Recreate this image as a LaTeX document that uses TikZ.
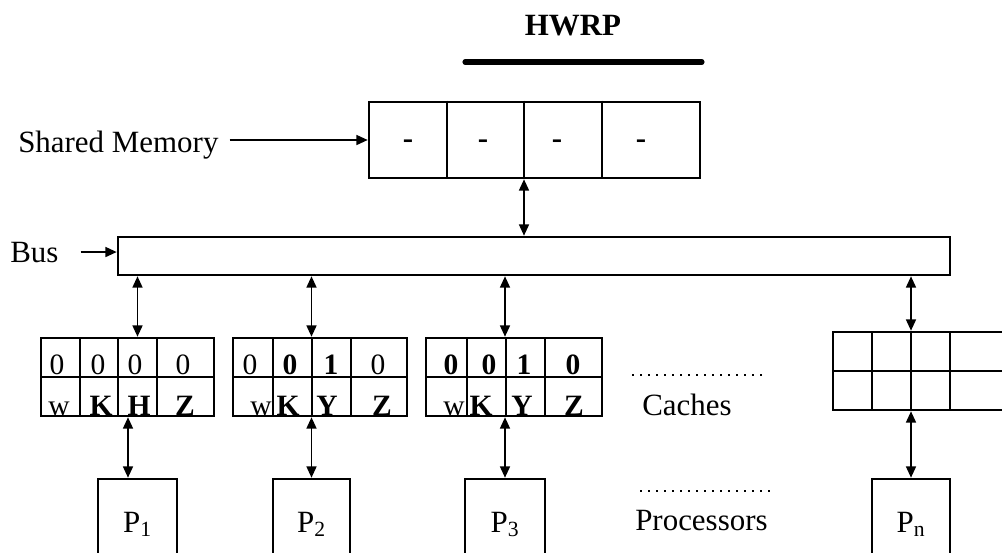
\documentclass[tikz,border=0pt]{standalone}
\usepackage{fontspec}
\setmainfont{Liberation Serif}
\usetikzlibrary{arrows.meta,positioning,calc,fit}

\begin{document}
\begin{tikzpicture}[x=0.025cm, y=-0.025cm,
  % every box of the machine shares one heavy outline
  boxline/.style={draw=black, line width=1.8pt, inner sep=0pt},
  cellline/.style={line width=1.5pt},
  % bus traffic goes both ways; the two labels point one way only
  biarrow/.style={line width=1.3pt, {Triangle[length=8pt,width=7pt]}-{Triangle[length=8pt,width=7pt]}},
  onearrow/.style={line width=1.3pt, -{Triangle[length=8pt,width=7pt]}},
  lbl/.style={font=\fontsize{22}{24}\selectfont, inner sep=0pt},
  celltxt/.style={font=\fontsize{21}{22}\selectfont, inner sep=0pt, anchor=base},
  dotline/.style={line width=1.7pt, dash pattern=on 1.4pt off 4.3pt},
]
\useasboundingbox (0,0) rectangle (1002,553);
\clip (0,0) rectangle (1002,553);

% title and its rule
\node[lbl, font=\fontsize{22}{24}\selectfont\bfseries, anchor=base] (hwrp) at (573,35) {HWRP};
\draw[line width=3.6pt, line cap=round] (465,62) -- (702,62);

% shared memory
\node[boxline, fit={(369,102) (700,178)}] (mem) {};
\foreach \xd in {447,524,602}
  \draw[cellline] (\xd,0 |- mem.north) -- (\xd,0 |- mem.south);
\foreach \xt [count=\i] in {408,483,557,641}
  \node[lbl, font=\fontsize{22}{24}\selectfont\bfseries, anchor=base] (dash\i) at (\xt,148) {-};
\node[lbl, anchor=base west] (smlbl) at (18,152) {Shared Memory};
\draw[onearrow] ([xshift=0.275cm]smlbl.east |- mem.west) -- (mem.west);

% bus
\node[boxline, fit={(118,237) (950,275)}] (bus) {};
\node[lbl, anchor=base west] (buslbl) at (10,262) {Bus};
\draw[onearrow] ([xshift=0.55cm]buslbl.east) -- (buslbl.east -| bus.west);
\draw[biarrow] (mem.south -| 524,0) -- (bus.north -| 524,0);

% caches: two rows of four cells each (the last one runs off the page)
\foreach \c/\xa/\xb/\xc/\xd/\xe/\yt/\yb in {1/41/80/118/157/214/338/416,
    2/233/273/312/351/407/338/416, 3/426/467/506/545/602/338/416,
    n/833/872/911/950/1015/332/410} {
  \node[boxline, fit={(\xa,\yt) (\xe,\yb)}] (c\c) {};
  \draw[cellline] (\xa,{(\yt+\yb)/2}) -- (\xe,{(\yt+\yb)/2});
  \foreach \xx in {\xb,\xc,\xd}
    \draw[cellline] (\xx,\yt) -- (\xx,\yb);
}
\foreach \xx/\yy/\wt/\txt [count=\i] in {
    57/374/\mdseries/0, 98/374/\mdseries/0, 135/374/\mdseries/0, 183/374/\mdseries/0,
    59/415/\mdseries/w, 101/415/\bfseries/K, 139/415/\bfseries/H, 185/415/\bfseries/Z,
    250/374/\mdseries/0, 290/374/\bfseries/0, 331/374/\bfseries/1, 378/374/\mdseries/0,
    261/415/\mdseries/w, 288/415/\bfseries/K, 327/415/\bfseries/Y, 382/415/\bfseries/Z,
    451/374/\bfseries/0, 489/374/\bfseries/0, 524/374/\bfseries/1, 573/374/\bfseries/0,
    454/415/\mdseries/w, 481/415/\bfseries/K, 522/415/\bfseries/Y, 574/415/\bfseries/Z}
  \node[celltxt] (ct\i) at (\xx,\yy) {\wt\txt};

\draw[dotline] (632,375) -- (763,375);
\node[lbl, anchor=base west] (cachelbl) at (642,415) {Caches};

% processors
\foreach \p/\xa/\xb/\dx in {1/98/177/-9.5, 2/273/350/0, 3/465/545/0, n/872/950/0} {
  \node[boxline, fit={(\xa,479) (\xb,580)}] (p\p) {};
  \node[lbl, anchor=base] (pl\p) at (p\p.center |- 0,532) {P\textsubscript{\p}};
  \draw[biarrow] (bus.south -| p\p) -- (c\p.north -| p\p);
  \draw[biarrow] ([xshift=\dx*0.025cm]p\p.north |- c\p.south) -- ([xshift=\dx*0.025cm]p\p.north);
}
\draw[dotline] (640,491) -- (770,491);
\node[lbl, anchor=base west] (proclbl) at (635,530) {Processors};
\end{tikzpicture}
\end{document}
